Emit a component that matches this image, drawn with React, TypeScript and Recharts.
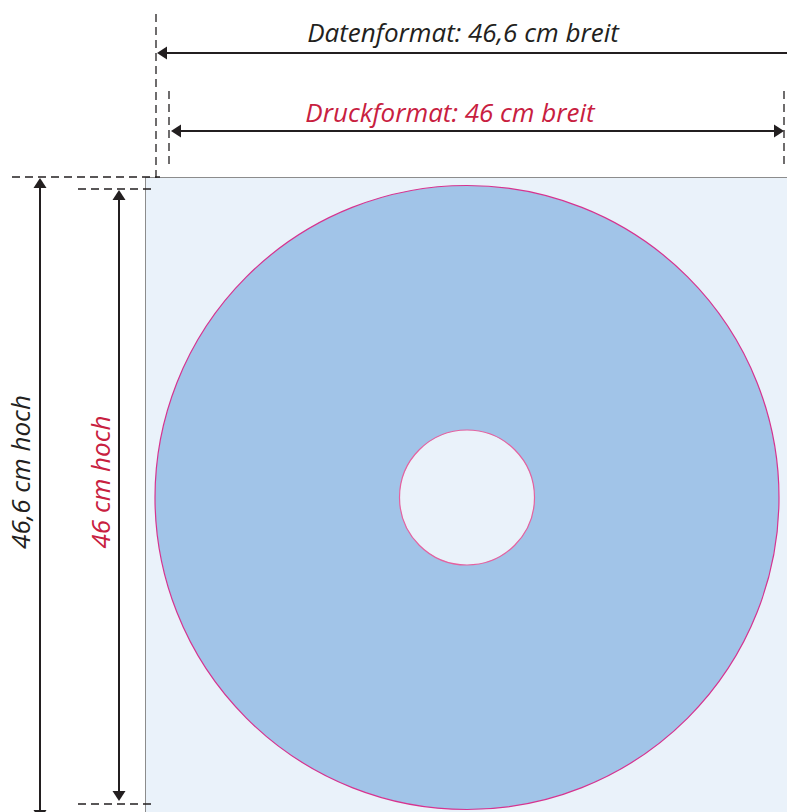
import { PieChart, Pie } from "recharts";

// print sheet: one disc with a centre hole
const discData = [{ name: "Druckfläche", value: 100 }];
const widthLabels = ["Datenformat: 46,6 cm breit", "Druckformat: 46 cm breit"];
const heightLabels = ["46,6 cm hoch", "46 cm hoch"];

const W = 787;
const H = 812;
const INK = "#231f20";
const RED = "#c8203f";
const FONT = "'Open Sans', Lato, sans-serif";
const FS = 26;

function DiscShape(props: any) {
  const { cx, cy, innerRadius, outerRadius } = props;
  return (
    <g>
      <circle cx={cx} cy={cy} r={outerRadius} fill="#a1c4e8" stroke="#d6338f" strokeWidth={1.2} />
      <circle cx={cx} cy={cy} r={innerRadius} fill="#eaf2fa" stroke="#e5619f" strokeWidth={1.2} />
    </g>
  );
}

function head(x: number, y: number, dx: number, dy: number) {
  const len = 10;
  const half = 6.5;
  const bx = x - dx * len;
  const by = y - dy * len;
  const px = -dy * half;
  const py = dx * half;
  return `${x},${y} ${bx + px},${by + py} ${bx - px},${by - py}`;
}

function Arrow({ x1, y1, x2, y2 }: { x1: number; y1: number; x2: number; y2: number }) {
  const d = Math.hypot(x2 - x1, y2 - y1);
  const dx = (x2 - x1) / d;
  const dy = (y2 - y1) / d;
  return (
    <g>
      <line x1={x1 + dx * 8} y1={y1 + dy * 8} x2={x2 - dx * 8} y2={y2 - dy * 8} stroke={INK} strokeWidth={2} />
      <polygon points={head(x1, y1, -dx, -dy)} fill={INK} />
      <polygon points={head(x2, y2, dx, dy)} fill={INK} />
    </g>
  );
}

function Dash({ x1, y1, x2, y2 }: { x1: number; y1: number; x2: number; y2: number }) {
  return <line x1={x1} y1={y1} x2={x2} y2={y2} stroke={INK} strokeWidth={1.3} strokeDasharray="8 5" />;
}

function Annotations() {
  return (
    <svg width={W} height={H} style={{ position: "absolute", left: 0, top: 0, pointerEvents: "none" }}>
      {/* guide lines */}
      <Dash x1={156} y1={14} x2={156} y2={178} />
      <Dash x1={169} y1={91} x2={169} y2={168} />
      <Dash x1={784} y1={91} x2={784} y2={168} />
      <Dash x1={12} y1={177} x2={160} y2={177} />
      <Dash x1={78} y1={189} x2={156} y2={189} />
      <Dash x1={78} y1={804} x2={156} y2={804} />

      {/* dimension arrows */}
      <Arrow x1={157} y1={53} x2={810} y2={53} />
      <Arrow x1={171} y1={131} x2={784} y2={131} />
      <Arrow x1={40} y1={178} x2={40} y2={820} />
      <Arrow x1={119} y1={190} x2={119} y2={801} />

      <text x={463} y={42} textAnchor="middle" fontFamily={FONT} fontStyle="italic" fontSize={FS} fill={INK}>
        {widthLabels[0]}
      </text>
      <text x={450} y={122} textAnchor="middle" fontFamily={FONT} fontStyle="italic" fontSize={FS} fill={RED}>
        {widthLabels[1]}
      </text>
      <text x={30} y={472} transform="rotate(-90 30 472)" textAnchor="middle" fontFamily={FONT} fontStyle="italic" fontSize={FS} fill={INK}>
        {heightLabels[0]}
      </text>
      <text x={110} y={482} transform="rotate(-90 110 482)" textAnchor="middle" fontFamily={FONT} fontStyle="italic" fontSize={FS} fill={RED}>
        {heightLabels[1]}
      </text>
    </svg>
  );
}

export default function App() {
  return (
    <div style={{ position: "absolute", left: 0, top: 0, width: W, height: H, overflow: "hidden", background: "#fff" }}>
      <div
        style={{
          position: "absolute",
          left: 145,
          top: 177,
          width: W,
          height: H,
          background: "#eaf2fa",
          borderLeft: "1px solid #8c8c8c",
          borderTop: "1px solid #8c8c8c",
        }}
      />
      <div style={{ position: "absolute", left: 0, top: 0 }}>
        <PieChart width={W} height={H} margin={{ top: 0, right: 0, bottom: 0, left: 0 }}>
          <Pie
            data={discData}
            dataKey="value"
            cx={467}
            cy={497.5}
            innerRadius={67.5}
            outerRadius={312}
            startAngle={90}
            endAngle={-270}
            stroke="none"
            shape={DiscShape}
            inactiveShape={DiscShape}
            activeShape={DiscShape}
            isAnimationActive={false}
          />
        </PieChart>
      </div>
      <Annotations />
    </div>
  );
}
